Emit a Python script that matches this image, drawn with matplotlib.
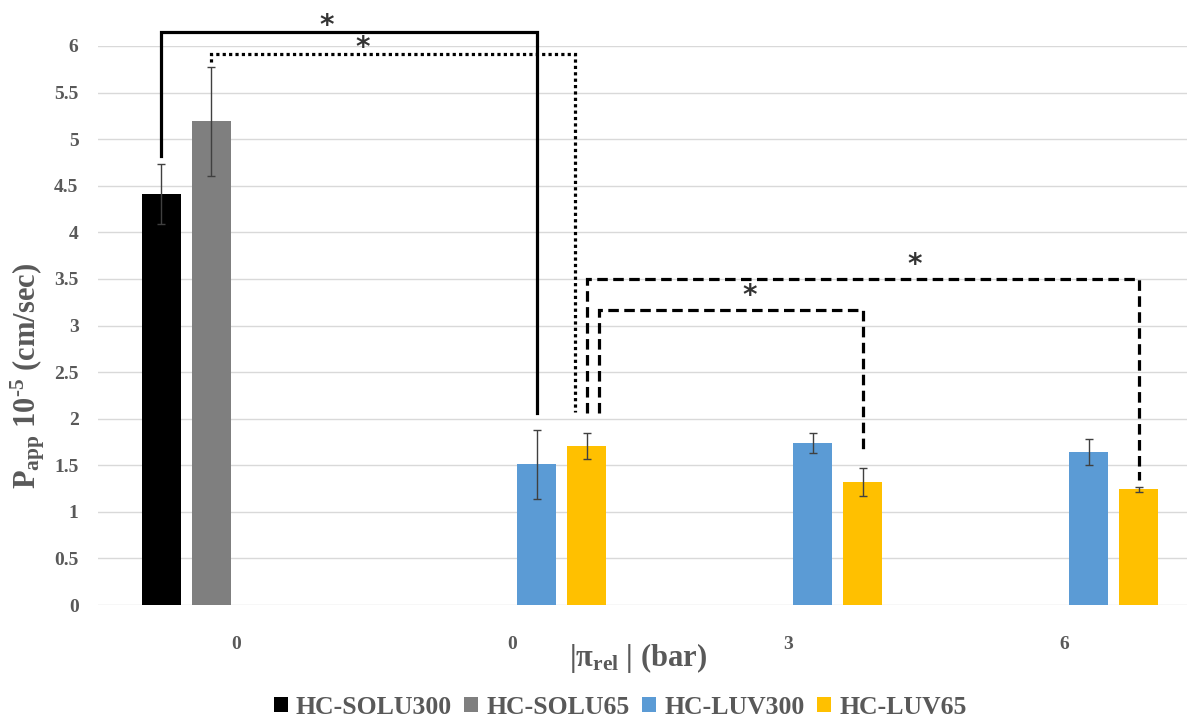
import numpy as np
import matplotlib
matplotlib.use("Agg")
import matplotlib.pyplot as plt
from matplotlib.patches import Patch

plt.rcParams['font.family'] = ['Liberation Serif', 'DejaVu Serif']
plt.rcParams['font.weight'] = 'bold'
plt.rcParams['axes.labelweight'] = 'bold'
plt.rcParams['mathtext.fontset'] = 'custom'
plt.rcParams['mathtext.rm'] = 'Liberation Serif:bold'
plt.rcParams['mathtext.it'] = 'Liberation Serif:bold'
plt.rcParams['mathtext.bf'] = 'Liberation Serif:bold'

nan = np.nan
categories = ["0", "0", "3", "6"]
series_names = ["HC-SOLU300", "HC-SOLU65", "HC-LUV300", "HC-LUV65"]
solu300 = [4.41, nan, nan, nan]
solu300_err = [0.32, nan, nan, nan]
solu65 = [5.19, nan, nan, nan]
solu65_err = [0.58, nan, nan, nan]
luv300 = [nan, 1.51, 1.74, 1.64]
luv300_err = [nan, 0.37, 0.11, 0.14]
luv65 = [nan, 1.71, 1.32, 1.24]
luv65_err = [nan, 0.14, 0.15, 0.03]

values = [solu300, solu65, luv300, luv65]
errors = [solu300_err, solu65_err, luv300_err, luv65_err]
colors = ["#000000", "#7F7F7F", "#5B9BD5", "#FFC000"]

# significance brackets: (left_cat, left_slot, y_left_end, right_cat, right_slot, y_right_end, y_top, style, star_x_cat, star_y)
brackets = [
    (0, 0.0, 4.82, 1, 2.0, 2.06, 6.15, 'solid', 0.33, 6.22),
    (0, 1.0, 5.83, 1, 2.76, 2.07, 5.91, 'dotted', 0.46, 5.98),
    (1, 3.0, 2.06, 3, 3.0, 1.34, 3.50, 'dashed', 2.46, 3.65),
    (1, 3.24, 2.06, 2, 3.0, 1.67, 3.17, 'dashed', 1.86, 3.32),
]

W, H = 1187, 719
fig = plt.figure(figsize=(W / 100, H / 100), dpi=100)
ax = fig.add_axes([98 / W, 1 - 605 / H, 1104 / W, (605 - 46) / H])

x = np.arange(len(categories))
slot = 50 / 276
bw = 39 / 276

def slot_x(cat, s):
    return cat + (s - 1.5) * slot

for i, (vals, errs, c) in enumerate(zip(values, errors, colors)):
    xs = x + (i - 1.5) * slot
    ax.bar(xs, vals, width=bw, color=c, zorder=3, label=series_names[i])
    ax.errorbar(xs, vals, yerr=errs, fmt='none', ecolor='#404040', elinewidth=1,
                capsize=3, capthick=1, zorder=4)

styles = {'solid': '-', 'dotted': (0, (1, 1)), 'dashed': (0, (3.3, 1.7))}
for (cl, sl, yl, cr, sr, yr, yt, st, sx, sy) in brackets:
    xl = slot_x(cl, sl)
    xr = slot_x(cr, sr)
    ax.plot([xl, xl, xr, xr], [yl, yt, yt, yr], color='black', lw=2.3,
            linestyle=styles[st], clip_on=False, zorder=5,
            solid_joinstyle='miter', dash_joinstyle='miter')
    ax.text(sx, sy, "*", ha='center', va='center', fontsize=20,
            color='#333333', family='DejaVu Sans', fontweight='bold', clip_on=False)

ax.set_xlim(-0.5, 3.5)
ax.set_ylim(0, 6)
ax.set_yticks(np.arange(0, 6.01, 0.5))
ax.set_yticklabels([f"{v:g}" for v in np.arange(0, 6.01, 0.5)])
ax.set_xticks(x)
ax.set_xticklabels(categories)
ax.yaxis.grid(True, color='#D9D9D9', lw=1, zorder=0)
ax.set_axisbelow(True)
for s in ax.spines.values():
    s.set_visible(False)
ax.tick_params(axis='both', length=0, colors='#595959', labelsize=14)
ax.tick_params(axis='y', pad=14)
ax.tick_params(axis='x', pad=22)

fig.text(28 / W, 1 - 376 / H, "P$_{\\mathrm{app}}$ 10$^{\\mathrm{\u20105}}$ (cm/sec)", fontsize=22,
         color='#595959', rotation=90, ha='center', va='center', fontweight='bold')
fig.text(638 / W, 1 - 658 / H, r"|π$_{\mathrm{rel}}$ | (bar)", fontsize=22,
         color='#595959', ha='center', va='center', fontweight='bold')

handles = [Patch(facecolor=c, edgecolor='none') for c in colors]
fig.legend(handles, series_names, loc='center', bbox_to_anchor=(620 / W, 1 - 707 / H),
           ncol=4, frameon=False, fontsize=18.5, handlelength=0.55, handleheight=0.55,
           handletextpad=0.3, columnspacing=0.5, labelcolor='#595959',
           borderpad=0, borderaxespad=0)

fig.savefig("out.png", dpi=100)
